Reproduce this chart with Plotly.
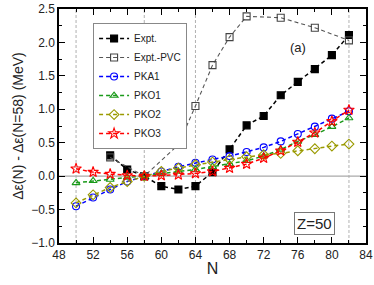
import plotly.graph_objects as go

N_expt = [54, 56, 58, 60, 62, 64, 66, 68, 70, 72, 74, 76, 78, 80, 82]
expt = [0.31, 0.10, 0.0, -0.15, -0.20, -0.15, 0.06, 0.40, 0.76, 0.90, 1.21, 1.41, 1.60, 1.81, 2.11]

N_pvc = [54, 58, 62, 64, 66, 68, 70, 74, 78, 82]
pvc = [0.28, 0.0, 0.47, 1.05, 1.66, 2.08, 2.39, 2.37, 2.22, 2.03]

N_th = [50, 52, 54, 56, 58, 60, 62, 64, 66, 68, 70, 72, 74, 76, 78, 80, 82]
pka1 = [-0.45, -0.32, -0.20, -0.08, 0.0, 0.07, 0.14, 0.20, 0.25, 0.30, 0.36, 0.43, 0.52, 0.63, 0.74, 0.86, 0.97]
pko1 = [-0.10, -0.07, -0.05, -0.02, 0.0, 0.04, 0.07, 0.10, 0.14, 0.18, 0.23, 0.30, 0.40, 0.52, 0.62, 0.74, 0.87]
pko2 = [-0.40, -0.28, -0.17, -0.08, 0.0, 0.07, 0.12, 0.17, 0.21, 0.25, 0.29, 0.32, 0.34, 0.38, 0.41, 0.45, 0.48]
pko3 = [0.11, 0.06, 0.03, 0.01, 0.0, 0.01, 0.02, 0.04, 0.07, 0.12, 0.18, 0.27, 0.38, 0.51, 0.65, 0.82, 0.99]

vlines = [50, 58, 64, 82]

FONT = "Liberation Sans, Arial, sans-serif"
DASH = "4px,3px"

fig = go.Figure()

def add(x, y, name, color, symbol, lcolor=None, size=7, lw=1.5):
    fig.add_trace(go.Scatter(
        x=x, y=y, name=name, mode="lines+markers",
        line=dict(color=lcolor or color, dash=DASH, width=lw),
        marker=dict(symbol=symbol, size=size, color=color,
                    line=dict(color=color, width=1.1)),
    ))

# reference lines
for v in vlines:
    fig.add_shape(type="line", x0=v, x1=v, y0=-1.0, y1=2.5, xref="x", yref="y",
                  line=dict(color="#b0b0b0" if v != 82 else "#cccccc", width=1 if v != 82 else 1.5, dash="3px,2px"),
                  layer="below")
fig.add_shape(type="line", x0=48, x1=84, y0=0, y1=0, xref="x", yref="y",
              line=dict(color="#aaaaaa", width=1.2), layer="below")

add(N_expt, expt, "Expt.", "black", "square", size=7, lw=1.5)
add(N_pvc, pvc, "Expt.-PVC", "#444444", "square-open", lcolor="#555555", size=7, lw=1.1)
add(N_th, pka1, "PKA1", "blue", "circle-open", size=7)
add(N_th, pko1, "PKO1", "#1a9a1a", "triangle-up-open", size=7)
add(N_th, pko2, "PKO2", "#9a9a00", "diamond-open", size=7.5)
add(N_th, pko3, "PKO3", "red", "star-open", size=8)

axis_common = dict(
    showline=True, linecolor="black", linewidth=1.5, mirror="allticks",
    ticks="inside", ticklen=6, tickwidth=1.2, tickcolor="black",
    showgrid=False, zeroline=False, automargin=False,
    tickfont=dict(family=FONT, size=12, color="#222222"),
)

fig.update_xaxes(range=[48, 84], tick0=48, dtick=4,
                 minor=dict(ticks="inside", ticklen=3, tickwidth=1.2, tickcolor="black", dtick=2, tick0=48, showgrid=False),
                 title=dict(text="N", font=dict(family=FONT, size=16, color="#222222"), standoff=2),
                 **axis_common)
fig.update_yaxes(range=[-1.0, 2.5], tick0=-1.0, dtick=0.5, tickformat=".1f",
                 minor=dict(ticks="inside", ticklen=3, tickwidth=1.2, tickcolor="black", dtick=0.25, tick0=-1.0, showgrid=False),
                 title=dict(text="Δε(N) - Δε(N=58) (MeV)", font=dict(family=FONT, size=14, color="#222222"), standoff=4),
                 **axis_common)

fig.add_annotation(x=76, y=1.92, text="(a)", showarrow=False, xref="x", yref="y",
                   font=dict(family=FONT, size=13, color="#222222"))
fig.add_annotation(x=78, y=-0.71, text="Z=50", showarrow=False, xref="x", yref="y",
                   font=dict(family=FONT, size=15, color="#222222"),
                   bordercolor="#777777", borderwidth=1, borderpad=2, bgcolor="white")

fig.update_layout(
    width=374, height=285,
    margin=dict(l=59, r=8, t=9, b=42),
    plot_bgcolor="white", paper_bgcolor="white",
    legend=dict(x=0.111, y=0.94, xanchor="left", yanchor="top",
                bordercolor="#888888", borderwidth=1, bgcolor="white",
                font=dict(family=FONT, size=10, color="#222222"),
                tracegroupgap=0, itemwidth=30),
    showlegend=True,
)

fig.write_html("out.html", config={"displayModeBar": False},
               post_script="document.body.style.margin='0';document.body.style.overflow='hidden';")
